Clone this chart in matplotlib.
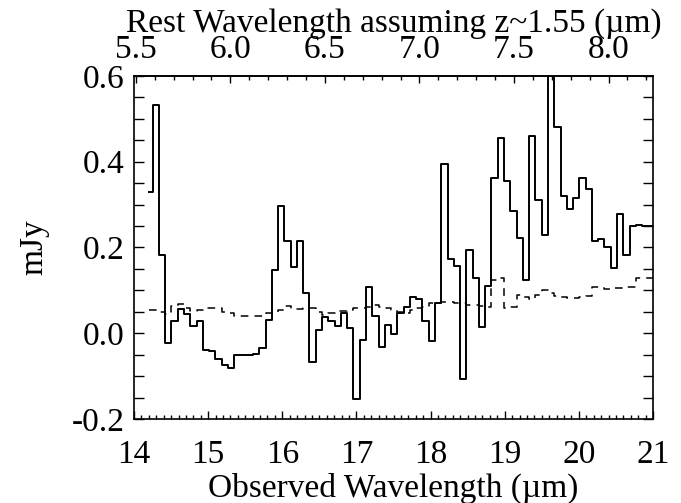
import matplotlib
matplotlib.use("Agg")
import matplotlib.pyplot as plt
from matplotlib.ticker import MultipleLocator, FormatStrFormatter, FixedLocator

# Observed wavelength (micron) of each spectral bin
wavelength = [
    14.208, 14.293, 14.377, 14.462, 14.547, 14.631, 14.716, 14.801, 14.885, 14.970,
    15.055, 15.140, 15.224, 15.308, 15.393, 15.478, 15.562, 15.647, 15.732, 15.816,
    15.901, 15.986, 16.070, 16.155, 16.240, 16.324, 16.409, 16.494, 16.578, 16.663,
    16.748, 16.832, 16.917, 17.002, 17.086, 17.171, 17.255, 17.340, 17.425, 17.509,
    17.594, 17.679, 17.763, 17.848, 17.933, 18.017, 18.102, 18.187, 18.271, 18.356,
    18.441, 18.525, 18.610, 18.694, 18.779, 18.864, 18.948, 19.033, 19.118, 19.202,
    19.287, 19.372, 19.456, 19.541, 19.626, 19.710, 19.795, 19.880, 19.964, 20.049,
    20.134, 20.218, 20.303, 20.388, 20.472, 20.557, 20.641, 20.726, 20.811, 20.895,
    20.980, 21.065,
]

# Flux density (mJy)
flux = [
    0.329, 0.532, 0.183, -0.023, 0.028, 0.056, 0.045, 0.018, 0.029, -0.040,
    -0.041, -0.060, -0.074, -0.081, -0.050, -0.050, -0.050, -0.049, -0.034, 0.031,
    0.147, 0.297, 0.215, 0.155, 0.214, 0.093, -0.068, 0.008, 0.039, 0.029,
    0.018, 0.047, 0.012, -0.153, -0.015, 0.108, 0.041, -0.031, 0.020, -0.002,
    0.047, 0.062, 0.085, 0.081, 0.028, -0.019, 0.070, 0.394, 0.174, 0.157,
    -0.106, 0.194, 0.129, 0.014, 0.111, 0.361, 0.456, 0.355, 0.285, 0.221,
    0.125, 0.460, 0.310, 0.229, 0.660, 0.480, 0.319, 0.289, 0.316, 0.361,
    0.336, 0.214, 0.219, 0.202, 0.151, 0.277, 0.183, 0.250, 0.252, 0.250,
    0.250, 0.250,
]

# Uncertainty (mJy), dashed line
error = [
    0.054, 0.054, 0.050, 0.045, 0.064, 0.068, 0.060, 0.053, 0.055, 0.060,
    0.060, 0.058, 0.049, 0.047, 0.040, 0.040, 0.040, 0.040, 0.040, 0.047,
    0.050, 0.055, 0.063, 0.057, 0.057, 0.060, 0.058, 0.050, 0.043, 0.048,
    0.052, 0.053, 0.055, 0.058, 0.060, 0.062, 0.066, 0.062, 0.059, 0.055,
    0.050, 0.047, 0.055, 0.058, 0.062, 0.070, 0.071, 0.072, 0.072, 0.070,
    0.070, 0.065, 0.065, 0.063, 0.062, 0.125, 0.128, 0.060, 0.062, 0.089,
    0.085, 0.081, 0.090, 0.101, 0.095, 0.086, 0.084, 0.082, 0.082, 0.085,
    0.087, 0.107, 0.107, 0.104, 0.105, 0.106, 0.107, 0.108, 0.128, 0.128,
    0.128, 0.125,
]

redshift = 1.55
x_ticks = [14, 15, 16, 17, 18, 19, 20, 21]
y_ticks = [-0.2, 0.0, 0.2, 0.4, 0.6]
rest_ticks = [5.5, 6.0, 6.5, 7.0, 7.5, 8.0]

plt.rcParams['font.family'] = ['Liberation Serif', 'DejaVu Serif']
plt.rcParams['font.size'] = 24
plt.rcParams['axes.linewidth'] = 1.2

fig = plt.figure(figsize=(6.81, 5.03), dpi=100)
ax = fig.add_axes([0.1968, 0.167, 0.9589 - 0.1968, 0.849 - 0.167])

ax.step(wavelength, flux, where='mid', color='black', lw=1.4)
ax.step(wavelength, error, where='mid', color='black', lw=1.1,
        dashes=(5, 4))

ax.set_xlim(14, 21)
ax.set_ylim(-0.2, 0.6)

ax.xaxis.set_major_locator(FixedLocator(x_ticks))
ax.xaxis.set_minor_locator(MultipleLocator(0.1))
ax.yaxis.set_major_locator(FixedLocator(y_ticks))
ax.yaxis.set_minor_locator(MultipleLocator(0.05))
ax.yaxis.set_major_formatter(FormatStrFormatter('%.1f'))

ax.tick_params(axis='x', which='both', direction='in', top=False, bottom=True)
ax.tick_params(axis='x', which='major', length=6, width=1.0, pad=15)
ax.tick_params(axis='x', which='minor', length=3, width=1.0)
ax.tick_params(axis='y', which='both', direction='in', left=True, right=True,
               length=7, width=1.0, pad=7)

ax.set_xlabel('Observed Wavelength (µm)', labelpad=2)
ax.set_ylabel('mJy', labelpad=16)

sec = ax.secondary_xaxis('top', functions=(lambda x: x / (1 + redshift),
                                           lambda x: x * (1 + redshift)))
sec.xaxis.set_major_locator(FixedLocator(rest_ticks))
sec.xaxis.set_minor_locator(MultipleLocator(0.1))
sec.xaxis.set_major_formatter(FormatStrFormatter('%.1f'))
sec.tick_params(axis='x', which='both', direction='in')
sec.tick_params(axis='x', which='major', length=5, width=1.0, pad=8)
sec.tick_params(axis='x', which='minor', length=3, width=1.0)
sec.set_xlabel('Rest Wavelength assuming z~1.55 (µm)', labelpad=2)
sec.spines['top'].set_linewidth(1.2)

fig.savefig('out.png', dpi=100)
